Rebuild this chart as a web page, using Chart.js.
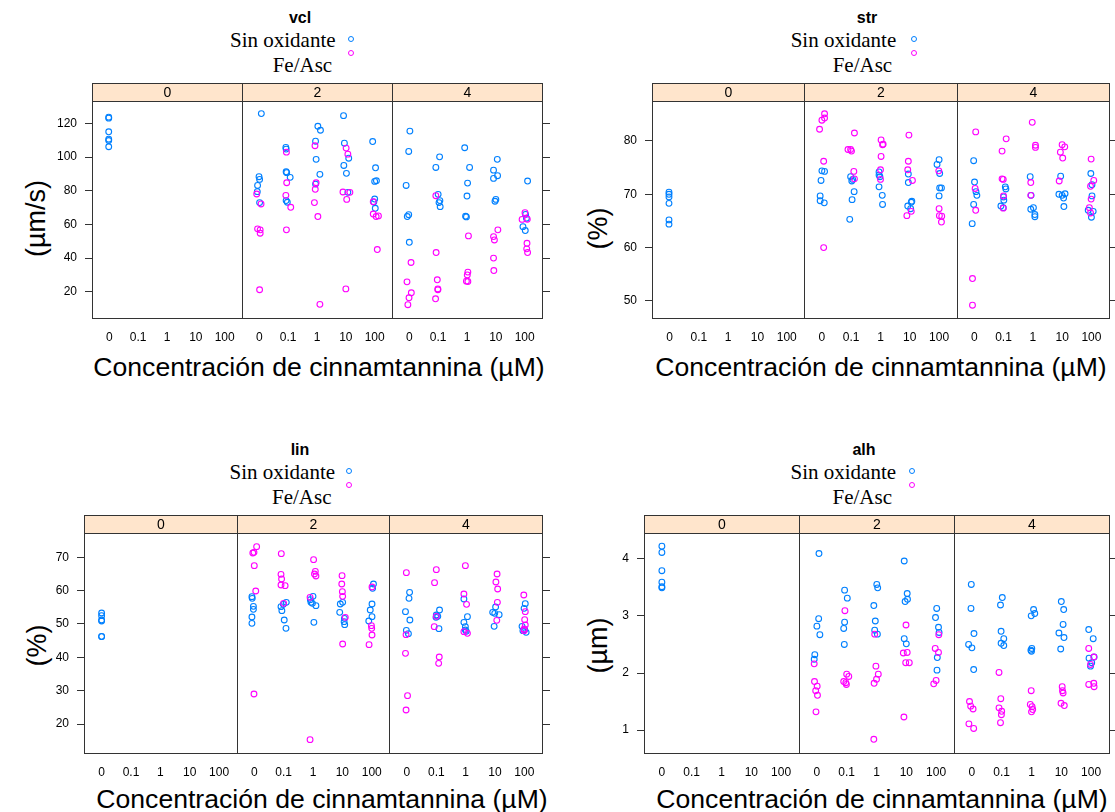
<!DOCTYPE html>
<html>
<head>
<meta charset="utf-8">
<script src="https://cdn.jsdelivr.net/npm/chart.js@4.4.1/dist/chart.umd.min.js"></script>
<style>
  html, body { margin: 0; padding: 0; background: #fff; overflow: hidden; }
  #page { position: relative; width: 1115px; height: 812px; }
  canvas { position: absolute; }
  .txt { position: absolute; white-space: nowrap; color: #000; }
  .dot { position: absolute; width: 4px; height: 4px; border-radius: 50%; border: 1px solid; }
</style>
</head>
<body>
<div id="page"></div>
<script>
const concLabels = ['0', '0.1', '1', '10', '100'];
const stripLabels = ['0', '2', '4'];
const seriesNames = ['Sin oxidante', 'Fe/Asc'];

// each point: [strip, concentration index, value, horizontal jitter]
const vclSinOx = [
  [0,0,123.8,-0.02],[0,0,123.2,-0.02],[0,0,115.1,-0.02],[0,0,110.7,-0.02],[0,0,109.9,-0.02],[0,0,106.2,-0.02],
  [1,0,125.9,0.07],[1,0,88.4,-0.01],[1,0,86.8,0.01],[1,0,83.2,-0.06],[1,0,79.5,-0.07],[1,0,73.0,0.01],
  [1,1,105.8,-0.08],[1,1,104.8,-0.07],[1,1,91.3,-0.07],[1,1,90.8,-0.05],[1,1,88.0,0.07],[1,1,74.2,-0.07],[1,1,73.2,-0.03],
  [1,2,118.4,0.03],[1,2,116.0,0.12],[1,2,109.5,-0.05],[1,2,98.7,-0.03],[1,2,89.8,0.1],[1,2,84.0,-0.05],
  [1,3,124.7,-0.08],[1,3,108.3,-0.05],[1,3,99.4,0.1],[1,3,95.1,-0.07],[1,3,90.4,0.02],[1,3,79.1,0.07],
  [1,4,109.3,-0.07],[1,4,93.7,0.03],[1,4,86.0,0.06],[1,4,85.6,0],[1,4,75.1,0],[1,4,73.4,-0.03],[1,4,69.6,0.02],
  [2,0,115.5,0.02],[2,0,103.4,-0.02],[2,0,83.2,-0.11],[2,0,65.8,-0.02],[2,0,64.7,-0.07],[2,0,49.4,0],
  [2,1,100.2,0.05],[2,1,93.9,-0.08],[2,1,77.9,0],[2,1,74.2,0.06],[2,1,73.0,0.03],[2,1,70.6,0.07],
  [2,2,105.6,-0.08],[2,2,93.9,0.09],[2,2,84.6,0.02],[2,2,76.9,0],[2,2,64.9,-0.05],[2,2,64.5,-0.02],
  [2,3,98.7,0.05],[2,3,92.3,-0.08],[2,3,89.0,0.06],[2,3,87.4,-0.08],[2,3,74.9,0],[2,3,73.8,-0.03],
  [2,4,85.8,0.1],[2,4,66.0,0.03],[2,4,63.7,0.06],[2,4,58.7,-0.06],[2,4,56.4,0.02]
];
const vclFeAsc = [
  [1,0,78.1,-0.09],[1,0,72.2,0.06],[1,0,57.4,-0.06],[1,0,56.8,0.03],[1,0,54.8,0.03],[1,0,21.2,0.01],
  [1,1,103.0,-0.06],[1,1,84.8,-0.05],[1,1,77.3,-0.08],[1,1,70.2,0.09],[1,1,56.8,-0.06],
  [1,2,106.8,-0.07],[1,2,84.8,-0.03],[1,2,80.9,-0.06],[1,2,73.0,-0.09],[1,2,64.7,0.03],[1,2,12.5,0.1],
  [1,3,105.4,0.01],[1,3,101.8,0.07],[1,3,79.3,-0.1],[1,3,79.1,0.14],[1,3,74.9,0.03],[1,3,21.7,0],
  [1,4,73.5,-0.05],[1,4,66.2,-0.05],[1,4,65.1,0.13],[1,4,64.7,0.05],[1,4,45.1,0.09],
  [2,0,37.4,0.06],[2,0,25.9,-0.08],[2,0,19.4,0.07],[2,0,16.4,-0.01],[2,0,12.3,-0.05],
  [2,1,77.1,-0.08],[2,1,43.3,-0.07],[2,1,27.1,-0.03],[2,1,21.7,-0.01],[2,1,21.2,-0.01],[2,1,15.8,-0.09],
  [2,2,53.2,0.05],[2,2,31.7,0.03],[2,2,30.0,0.01],[2,2,26.3,-0.02],[2,2,26.1,0.03],
  [2,3,56.8,0.07],[2,3,52.8,-0.08],[2,3,50.8,-0.05],[2,3,40.0,-0.08],[2,3,32.6,-0.07],
  [2,4,67.0,0.01],[2,4,63.1,0.09],[2,4,63.0,-0.09],[2,4,48.8,0.08],[2,4,45.5,0.07],[2,4,43.3,0.1]
];
const strSinOx = [
  [0,0,70.4,-0.02],[0,0,70.0,-0.02],[0,0,69.5,-0.02],[0,0,68.3,-0.02],[0,0,65.2,-0.02],[0,0,64.4,-0.02],
  [1,0,74.4,0],[1,0,74.3,0.09],[1,0,72.6,-0.03],[1,0,69.7,-0.06],[1,0,68.8,-0.06],[1,0,68.4,0.08],
  [1,1,73.3,-0.02],[1,1,72.8,0.05],[1,1,72.5,0.02],[1,1,70.5,0.1],[1,1,69.0,0.03],[1,1,65.3,-0.05],
  [1,2,74.2,-0.05],[1,2,73.6,-0.05],[1,2,73.3,-0.02],[1,2,71.4,-0.05],[1,2,69.8,0.06],[1,2,68.1,0.07],
  [1,3,73.8,-0.05],[1,3,72.2,-0.05],[1,3,68.7,0.07],[1,3,68.5,0.05],[1,3,67.8,-0.07],[1,3,67.3,0.03],
  [1,4,76.5,0],[1,4,75.6,-0.07],[1,4,73.9,0.02],[1,4,71.2,0.02],[1,4,71.2,0.08],[1,4,69.7,0],
  [2,0,76.3,-0.02],[2,0,72.3,0.01],[2,0,70.5,0.06],[2,0,69.8,0.09],[2,0,68.1,-0.02],[2,0,64.5,-0.07],
  [2,1,71.4,0.06],[2,1,71.0,0.08],[2,1,69.5,0],[2,1,68.9,0.01],[2,1,67.8,-0.09],[2,1,67.5,-0.01],
  [2,2,73.3,-0.09],[2,2,69.8,-0.06],[2,2,67.5,0.02],[2,2,67.2,-0.07],[2,2,66.2,0.07],[2,2,65.8,0.07],
  [2,3,73.4,-0.05],[2,3,70.1,0.1],[2,3,70.0,-0.11],[2,3,69.8,0],[2,3,69.3,0.05],[2,3,67.7,0.06],
  [2,4,73.9,-0.02],[2,4,71.8,0.02],[2,4,69.7,0.02],[2,4,67.0,-0.11],[2,4,66.8,0.06],[2,4,65.7,0]
];
const strFeAsc = [
  [1,0,85.1,0.09],[1,0,84.3,0.09],[1,0,83.9,0],[1,0,82.2,-0.08],[1,0,76.2,0.06],[1,0,60.0,0.06],
  [1,1,81.5,0.11],[1,1,78.4,-0.11],[1,1,78.4,-0.02],[1,1,78.1,0.01],[1,1,74.3,0.09],[1,1,72.9,0.11],
  [1,2,80.2,0.02],[1,2,79.4,0.09],[1,2,79.3,0.07],[1,2,77.1,0.02],[1,2,74.6,0],[1,2,72.8,0],
  [1,3,81.1,-0.03],[1,3,76.2,-0.05],[1,3,74.6,-0.07],[1,3,72.6,0.09],[1,3,66.8,0.05],[1,3,66.0,-0.1],
  [1,4,74.4,-0.01],[1,4,67.3,0],[1,4,66.0,0.01],[1,4,65.9,0.09],[1,4,64.8,0.08],
  [2,0,81.7,0.05],[2,0,71.1,0.03],[2,0,67.0,0.05],[2,0,54.2,-0.06],[2,0,49.2,-0.06],
  [2,1,80.4,0.09],[2,1,78.1,-0.05],[2,1,72.9,-0.05],[2,1,72.8,-0.01],[2,1,69.7,0],[2,1,67.4,-0.01],
  [2,2,83.5,-0.02],[2,2,79.2,0.09],[2,2,78.8,0.09],[2,2,72.2,-0.07],[2,2,69.8,-0.07],
  [2,3,79.3,0],[2,3,78.9,0.09],[2,3,77.9,-0.06],[2,3,76.8,0.02],[2,3,72.5,-0.1],
  [2,4,76.6,-0.01],[2,4,72.6,0.08],[2,4,71.5,-0.03],[2,4,69.1,-0.01],[2,4,67.5,-0.07],[2,4,66.5,-0.03]
];
const linSinOx = [
  [0,0,53.3,0],[0,0,52.5,0],[0,0,51.2,0],[0,0,50.9,0],[0,0,46.3,0],[0,0,46.2,0],
  [1,0,58.2,-0.08],[1,0,57.7,-0.07],[1,0,55.3,-0.03],[1,0,54.4,-0.03],[1,0,52.1,-0.08],[1,0,50.2,-0.08],
  [1,1,56.5,0.09],[1,1,55.9,-0.01],[1,1,55.2,-0.09],[1,1,54.0,-0.06],[1,1,51.2,0.02],[1,1,48.7,0.08],
  [1,2,58.3,0],[1,2,57.3,-0.09],[1,2,56.5,-0.07],[1,2,56.2,-0.02],[1,2,55.5,0.1],[1,2,50.5,0.03],
  [1,3,56.5,0.01],[1,3,56.0,-0.07],[1,3,53.5,-0.09],[1,3,51.7,0.07],[1,3,50.7,0.06],[1,3,49.8,0.08],
  [1,4,62.0,0.06],[1,4,60.7,0.03],[1,4,56.0,0.01],[1,4,54.2,-0.05],[1,4,52.2,0.01],[1,4,50.9,-0.1],
  [2,0,59.5,0.09],[2,0,57.7,0.07],[2,0,53.7,-0.05],[2,0,51.2,0.1],[2,0,48.1,-0.02],[2,0,47.1,0.05],
  [2,1,54.2,0.11],[2,1,52.7,0],[2,1,52.3,0.05],[2,1,52.0,-0.01],[2,1,48.6,0.09],
  [2,2,57.5,-0.06],[2,2,52.2,0.06],[2,2,50.5,-0.06],[2,2,49.2,-0.01],[2,2,48.2,-0.01],[2,2,47.8,0.02],
  [2,3,55.1,0.02],[2,3,53.5,-0.08],[2,3,53.2,-0.01],[2,3,52.8,0.14],[2,3,49.3,-0.03],
  [2,4,56.1,0.03],[2,4,54.7,-0.01],[2,4,49.3,-0.08],[2,4,48.3,0.01],[2,4,48.0,-0.05],[2,4,47.5,0.06]
];
const linFeAsc = [
  [1,0,73.2,0.08],[1,0,71.5,-0.01],[1,0,71.3,-0.05],[1,0,67.5,0],[1,0,59.9,0.05],[1,0,29.0,-0.01],
  [1,1,71.1,-0.08],[1,1,64.9,-0.09],[1,1,63.5,-0.07],[1,1,61.7,-0.09],[1,1,61.5,0.05],[1,1,56.2,0],
  [1,2,69.3,0.02],[1,2,65.8,0.08],[1,2,65.0,0.05],[1,2,64.4,0.1],[1,2,58.0,-0.1],[1,2,15.3,-0.1],
  [1,3,64.5,-0.01],[1,3,62.0,-0.02],[1,3,59.7,0],[1,3,58.3,0.01],[1,3,52.0,0.1],[1,3,44.0,0.01],
  [1,4,61.1,0.01],[1,4,49.5,-0.01],[1,4,48.7,0],[1,4,46.7,0.01],[1,4,43.8,-0.09],
  [2,0,65.4,-0.02],[2,0,46.8,-0.03],[2,0,41.2,-0.05],[2,0,28.5,0.02],[2,0,24.2,-0.03],
  [2,1,66.3,0],[2,1,62.4,-0.06],[2,1,52.3,0],[2,1,49.2,-0.07],[2,1,40.1,0.1],[2,1,38.2,0.08],
  [2,2,67.5,-0.01],[2,2,59.0,-0.06],[2,2,55.9,0.03],[2,2,47.7,-0.06],[2,2,47.2,0.06],
  [2,3,65.0,0.07],[2,3,62.6,0.03],[2,3,60.5,0.09],[2,3,56.5,0.08],[2,3,51.1,0.06],
  [2,4,58.7,-0.02],[2,4,53.7,0.03],[2,4,51.3,0.01],[2,4,49.7,0.03],[2,4,48.5,-0.01],[2,4,48.0,-0.01]
];
const alhSinOx = [
  [0,0,4.22,0],[0,0,4.11,0],[0,0,3.79,0],[0,0,3.59,0],[0,0,3.51,0],[0,0,3.49,0],
  [1,0,4.09,0.07],[1,0,2.95,0.06],[1,0,2.82,0],[1,0,2.67,0.1],[1,0,2.32,-0.07],[1,0,2.24,-0.09],
  [1,1,3.45,-0.07],[1,1,3.31,0.02],[1,1,2.89,-0.07],[1,1,2.78,-0.1],[1,1,2.50,-0.08],
  [1,2,3.55,0.01],[1,2,3.49,0.04],[1,2,3.18,-0.09],[1,2,2.91,-0.04],[1,2,2.75,-0.06],[1,2,2.68,0.03],
  [1,3,3.96,-0.07],[1,3,3.39,0.03],[1,3,3.29,0.04],[1,3,3.25,-0.04],[1,3,2.60,-0.07],[1,3,2.51,0],
  [1,4,3.13,0.02],[1,4,2.97,-0.02],[1,4,2.80,0.08],[1,4,2.71,0.1],[1,4,2.27,0.04],[1,4,2.05,0.03],
  [2,0,3.55,-0.02],[2,0,3.13,-0.03],[2,0,2.69,0.07],[2,0,2.50,-0.11],[2,0,2.44,0],[2,0,2.06,0.06],
  [2,1,3.32,0.02],[2,1,3.19,-0.04],[2,1,2.73,-0.02],[2,1,2.60,0.07],[2,1,2.52,-0.02],[2,1,2.48,0.07],
  [2,2,3.11,0.07],[2,2,3.04,0.11],[2,2,3.00,-0.01],[2,2,2.43,0.01],[2,2,2.40,-0.02],[2,2,2.38,0],
  [2,3,3.25,0],[2,3,3.11,0.08],[2,3,2.85,0.06],[2,3,2.70,-0.08],[2,3,2.62,0.09],[2,3,2.42,-0.02],
  [2,4,2.76,-0.08],[2,4,2.60,0.07],[2,4,2.28,0.1],[2,4,2.26,-0.07],[2,4,2.18,0.02],[2,4,2.12,-0.02]
];
const alhFeAsc = [
  [1,0,2.16,-0.09],[1,0,1.85,-0.08],[1,0,1.77,0.01],[1,0,1.69,-0.04],[1,0,1.61,0.02],[1,0,1.32,-0.03],
  [1,1,3.09,-0.06],[1,1,1.98,0],[1,1,1.94,0.07],[1,1,1.85,-0.1],[1,1,1.83,-0.03],[1,1,1.80,-0.01],
  [1,2,2.68,-0.06],[1,2,2.12,-0.02],[1,2,1.98,0.06],[1,2,1.89,0],[1,2,1.82,-0.08],[1,2,0.84,-0.09],
  [1,3,2.84,-0.01],[1,3,2.36,0.03],[1,3,2.35,-0.1],[1,3,2.18,-0.02],[1,3,2.18,0.1],[1,3,1.23,-0.08],
  [1,4,2.67,0.09],[1,4,2.43,-0.03],[1,4,2.36,0.08],[1,4,1.87,0],[1,4,1.81,-0.08],
  [2,0,1.50,-0.08],[2,0,1.42,-0.04],[2,0,1.37,0.04],[2,0,1.11,-0.1],[2,0,1.03,0.06],
  [2,1,2.01,-0.09],[2,1,1.55,-0.03],[2,1,1.39,-0.09],[2,1,1.33,0],[2,1,1.27,-0.01],[2,1,1.13,-0.04],
  [2,2,1.69,-0.01],[2,2,1.45,-0.04],[2,2,1.41,0.02],[2,2,1.36,0.04],[2,2,1.32,0],
  [2,3,1.76,0.03],[2,3,1.69,0.04],[2,3,1.65,0.06],[2,3,1.47,-0.01],[2,3,1.43,0.1],
  [2,4,2.43,-0.08],[2,4,2.28,0.09],[2,4,2.15,-0.02],[2,4,1.82,0.09],[2,4,1.80,-0.08],[2,4,1.76,0.1]
];

// y axis ranges and tick steps
const vclRange = [4.4, 133.4], vclStep = 20;
const strRange = [46.8, 87.5], strStep = 10;
const linRange = [11.3, 77.3], linStep = 10;
const alhRange = [0.6, 4.45], alhStep = 1;

const blue = '#0080ff';
const magenta = '#ff00ff';
const sans = "'Liberation Sans', Arial, sans-serif";
const serif = "'Liberation Serif', 'Times New Roman', serif";

// each sub-panel spans 5.2 units, categories sit 0.6 in from its left edge
const SPAN = 5.2;
const catPos = (strip, conc) => SPAN * strip + 0.6 + conc;
const tickPos = [];
stripLabels.forEach((s, k) => concLabels.forEach((c, j) => tickPos.push(catPos(k, j))));

const toPoints = arr => arr.map(p => ({ x: catPos(p[0], p[1]) + p[3], y: p[2] }));

const panels = [
  { title: 'vcl', ylab: '(\u00b5m/s)', sin: vclSinOx, fe: vclFeAsc, range: vclRange, step: vclStep,
    box: [92, 101, 542, 318], titleX: 300, legX: [230, 272.7], dotX: 351, ylabX: 36, ylabY: 218, xlabX: 319 },
  { title: 'str', ylab: '(%)', sin: strSinOx, fe: strFeAsc, range: strRange, step: strStep,
    box: [652, 101, 1109, 318], titleX: 867, legX: [790.7, 832.7], dotX: 914, ylabX: 598, ylabY: 228, xlabX: 881 },
  { title: 'lin', ylab: '(%)', sin: linSinOx, fe: linFeAsc, range: linRange, step: linStep,
    box: [84, 533, 542, 753], titleX: 300, legX: [229.5, 272], dotX: 349, ylabX: 37, ylabY: 645, xlabX: 322 },
  { title: 'alh', ylab: '(\u00b5m)', sin: alhSinOx, fe: alhFeAsc, range: alhRange, step: alhStep,
    box: [644, 533, 1109, 753], titleX: 864, legX: [790.5, 832.5], dotX: 911.5, ylabX: 598, ylabY: 645, xlabX: 882 }
];

const page = document.getElementById('page');

function addText(str, css) {
  const d = document.createElement('div');
  d.className = 'txt';
  d.textContent = str;
  Object.assign(d.style, css);
  page.appendChild(d);
  return d;
}

function addDot(x, y, color) {
  const d = document.createElement('div');
  d.className = 'dot';
  d.style.left = (x - 3) + 'px';
  d.style.top = (y - 3) + 'px';
  d.style.borderColor = color;
  page.appendChild(d);
}

// strips, panel frames and dividers like lattice
const latticePlugin = {
  id: 'lattice',
  afterDraw(chart) {
    const { ctx, chartArea: a, scales: { x } } = chart;
    ctx.save();
    ctx.strokeStyle = '#333';
    ctx.lineWidth = 1;
    const top = Math.round(a.top) + 0.5;
    const bot = Math.round(a.bottom) + 0.5;
    const stripTop = top - 18;
    stripLabels.forEach((lab, k) => {
      const x0 = Math.round(x.getPixelForValue(SPAN * k)) + 0.5;
      const x1 = Math.round(x.getPixelForValue(SPAN * (k + 1))) + 0.5;
      ctx.fillStyle = '#ffe5cc';
      ctx.fillRect(x0, stripTop, x1 - x0, top - stripTop);
      ctx.strokeRect(x0, stripTop, x1 - x0, top - stripTop);
      ctx.strokeRect(x0, top, x1 - x0, bot - top);
      ctx.fillStyle = '#000';
      ctx.font = '14px ' + sans;
      ctx.textAlign = 'center';
      ctx.textBaseline = 'middle';
      ctx.fillText(lab, (x0 + x1) / 2, stripTop + 9.5);
    });
    ctx.restore();
  }
};

panels.forEach((p, i) => {
  const dy = i < 2 ? 0 : 432;

  addText(p.title, { left: (p.titleX - 50) + 'px', width: '100px', textAlign: 'center',
    top: (8.8 + dy) + 'px', font: 'bold 16px ' + sans, lineHeight: '18px' });
  addText(seriesNames[0], { left: p.legX[0] + 'px', top: (27.7 + dy) + 'px', font: '21px ' + serif, lineHeight: '24px' });
  addText(seriesNames[1], { left: p.legX[1] + 'px', top: (52.7 + dy) + 'px', font: '21px ' + serif, lineHeight: '24px' });
  addDot(p.dotX, 39 + dy, blue);
  addDot(p.dotX, 53.3 + dy, magenta);

  addText('Concentraci\u00f3n de cinnamtannina (\u00b5M)', { left: (p.xlabX - 300) + 'px', width: '600px',
    textAlign: 'center', top: (351.6 + dy) + 'px', font: '26.6px ' + sans, lineHeight: '31px' });
  addText(p.ylab, { left: (p.ylabX - 100) + 'px', width: '200px', textAlign: 'center',
    top: (p.ylabY - 15.5) + 'px', font: '27px ' + sans, lineHeight: '31px', transform: 'rotate(-90deg)' });

  const [L, T, R, B] = p.box;
  const cl = L - 80, ct = T - 25, cr = R + 12, cb = B + 25;
  const cv = document.createElement('canvas');
  cv.width = cr - cl;
  cv.height = cb - ct;
  cv.style.left = cl + 'px';
  cv.style.top = ct + 'px';
  page.appendChild(cv);

  const tickFont = { family: sans, size: 12 };

  new Chart(cv, {
    type: 'scatter',
    data: {
      datasets: [
        { label: seriesNames[1], data: toPoints(p.fe), order: 0,
          pointBorderColor: magenta, pointBackgroundColor: 'rgba(0,0,0,0)', pointRadius: 2.9, pointBorderWidth: 1.1 },
        { label: seriesNames[0], data: toPoints(p.sin), order: 1,
          pointBorderColor: blue, pointBackgroundColor: 'rgba(0,0,0,0)', pointRadius: 2.9, pointBorderWidth: 1.1 }
      ]
    },
    options: {
      responsive: false,
      animation: false,
      events: [],
      layout: { padding: { top: 25, left: 0, right: 0, bottom: 0 } },
      plugins: { legend: { display: false }, tooltip: { enabled: false } },
      scales: {
        x: {
          type: 'linear', min: 0, max: SPAN * 3,
          afterBuildTicks: s => { s.ticks = tickPos.map(v => ({ value: v })); },
          afterFit: s => { s.height = 25; },
          grid: { display: false },
          border: { display: false },
          ticks: { autoSkip: false, maxRotation: 0, padding: 4, font: tickFont, color: '#000',
            callback: (v, idx) => concLabels[idx % concLabels.length] }
        },
        y: {
          type: 'linear', position: 'left', min: p.range[0], max: p.range[1],
          afterFit: s => { s.width = 80; },
          grid: { drawOnChartArea: false, tickLength: 7, color: '#333' },
          border: { display: false },
          ticks: { stepSize: p.step, includeBounds: false, padding: 8, font: tickFont, color: '#000' }
        },
        y2: {
          type: 'linear', position: 'right', min: p.range[0], max: p.range[1],
          afterFit: s => { s.width = 12; },
          grid: { drawOnChartArea: false, tickLength: 8, color: '#333' },
          border: { display: false },
          ticks: { stepSize: p.step, includeBounds: false, display: false }
        }
      }
    },
    plugins: [latticePlugin]
  });
});
</script>
</body>
</html>
